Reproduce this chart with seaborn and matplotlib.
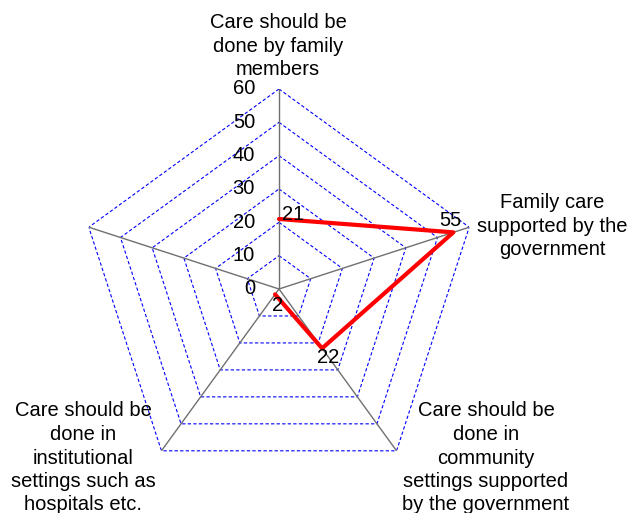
import numpy as np
import pandas as pd
import matplotlib
matplotlib.use("Agg")
import matplotlib.pyplot as plt
import seaborn as sns

sns.set_style("white")
plt.rcParams['font.family'] = ['Liberation Sans', 'DejaVu Sans']

# ---- data ----
categories = [
    "Care should be\ndone by family\nmembers",
    "Family care\nsupported by the\ngovernment",
    "Care should be\ndone in\ncommunity\nsettings supported\nby the government",
    "Care should be\ndone in\ninstitutional\nsettings such as\nhospitals etc.",
    "",
]
values = [21, 55, 22, 2]          # fifth axis has no value
tick_values = [0, 10, 20, 30, 40, 50, 60]
rmax = 60

W, H = 631, 513
FS = 14.5
fig = plt.figure(figsize=(W / 100, H / 100), dpi=100)
cx, cy, R = 279, 289, 200
ax = fig.add_axes([(cx - R) / W, (H - cy - R) / H, 2 * R / W, 2 * R / H],
                  projection='polar')
ax.set_theta_offset(np.pi / 2)
ax.set_theta_direction(-1)
ax.set_ylim(0, rmax)
ax.grid(False)
ax.set_xticks([])
ax.set_yticks([])
ax.spines['polar'].set_visible(False)
ax.set_facecolor('none')

n = len(categories)
thetas = np.arange(n) * 2 * np.pi / n

# polygon grid
for t in tick_values[1:]:
    th = np.append(thetas, thetas[0])
    rr = np.full(len(th), t)
    ax.plot(th, rr, color='#0000FF', lw=0.8, ls=(0, (3, 2)), zorder=1)
# spokes
for th in thetas:
    ax.plot([th, th], [0, rmax], color='#707070', lw=1.0, zorder=2)

# data line
df = pd.DataFrame({"theta": thetas[:len(values)], "value": values})
sns.lineplot(data=df, x="theta", y="value", sort=False, ax=ax,
             color='#FF0000', linewidth=3, zorder=5)
ax.set_xlabel("")
ax.set_ylabel("")

# data labels
offsets = [(3, 4, 'left'), (-3, 12, 'center'), (6, -9, 'center'), (2, -11, 'center')]
for th, v, (dx, dy, ha) in zip(df["theta"], df["value"], offsets):
    ax.annotate(str(v), (th, v), xytext=(dx, dy), textcoords='offset pixels',
                ha=ha, va='center', fontsize=FS, color='black', zorder=6)

# radial tick labels along top axis
for t in tick_values:
    ax.annotate(str(t), (0, t), xytext=(-24, 0), textcoords='offset pixels',
                ha='right', va='center', fontsize=FS, color='black')

# category labels
label_pos = [(278, 46), (552, 226), (486, 458), (83, 458)]
for lab, (x, y) in zip(categories, label_pos):
    fig.text(x / W, 1 - y / H, lab, ha='center', va='center',
             fontsize=FS, linespacing=1.3, color='black')

fig.savefig("out.png", dpi=100)
